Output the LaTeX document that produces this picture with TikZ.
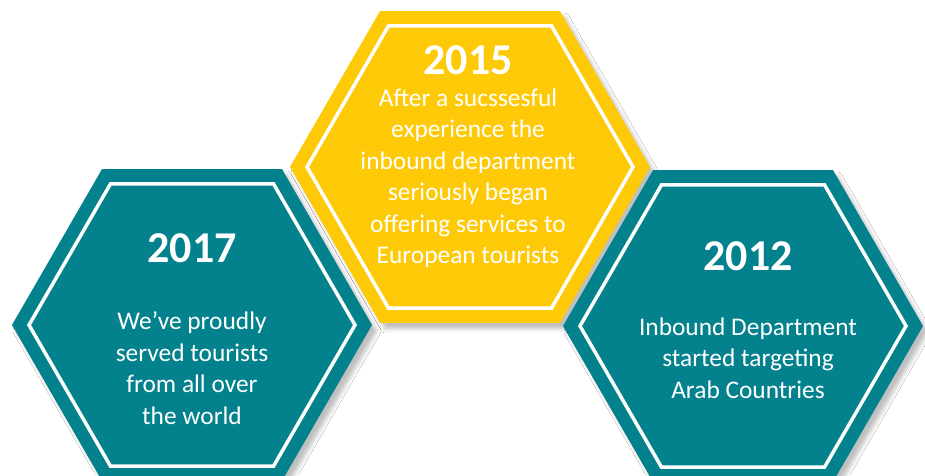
\documentclass[tikz,border=0pt]{standalone}
\usepackage{fontspec}
\setmainfont{Carlito}
\usetikzlibrary{shapes.geometric,shadows.blur}

\definecolor{tealhex}{RGB}{3,130,141}
\definecolor{yellowhex}{RGB}{254,202,8}

\tikzset{
  hexouter/.style={regular polygon, regular polygon sides=6, minimum size=360pt,
    inner sep=0pt, outer sep=0pt,
    blur shadow={shadow xshift=5pt, shadow yshift=-6pt, shadow blur radius=4pt, shadow opacity=25}},
  hexinner/.style={regular polygon, regular polygon sides=6, minimum size=326pt,
    inner sep=0pt, draw=white, line width=3.5pt},
  yeartext/.style={text=white, inner sep=0pt, font=\fontsize{44}{48}\selectfont\bfseries},
  bodytext/.style={text=white, inner sep=0pt, align=center, font=\fontsize{25.4}{31.5}\selectfont},
}

\begin{document}
\begin{tikzpicture}[x=1pt,y=1pt]
    \useasboundingbox (0,0) rectangle (925,475);
    \clip (0,0) rectangle (925,475);
    \fill[white] (0,0) rectangle (925,475);

    % 2015
    \node[hexouter, fill=yellowhex] (hex2015) at (470,308) {};
    \node[hexinner] (in2015) at (hex2015) {};
    \node[yeartext] (year2015) at (468,415) {2015};
    \node[bodytext] (text2015) at (468,297) {After a sucssesful\\experience the\\inbound department\\seriously began\\offering services to\\European tourists};

    % 2017
    \node[hexouter, fill=tealhex] (hex2017) at (192,150) {};
    \node[hexinner] (in2017) at (hex2017) {};
    \node[yeartext] (year2017) at (192,227) {2017};
    \node[bodytext] (text2017) at (192,107) {We’ve proudly\\served tourists\\from all over\\the world};

    % 2012
    \node[hexouter, fill=tealhex] (hex2012) at (743,149) {};
    \node[hexinner] (in2012) at (hex2012) {};
    \node[yeartext] (year2012) at (748,219) {2012};
    \node[bodytext] (text2012) at (748,117) {Inbound Department\\started targeting\\Arab Countries};
\end{tikzpicture}
\end{document}
